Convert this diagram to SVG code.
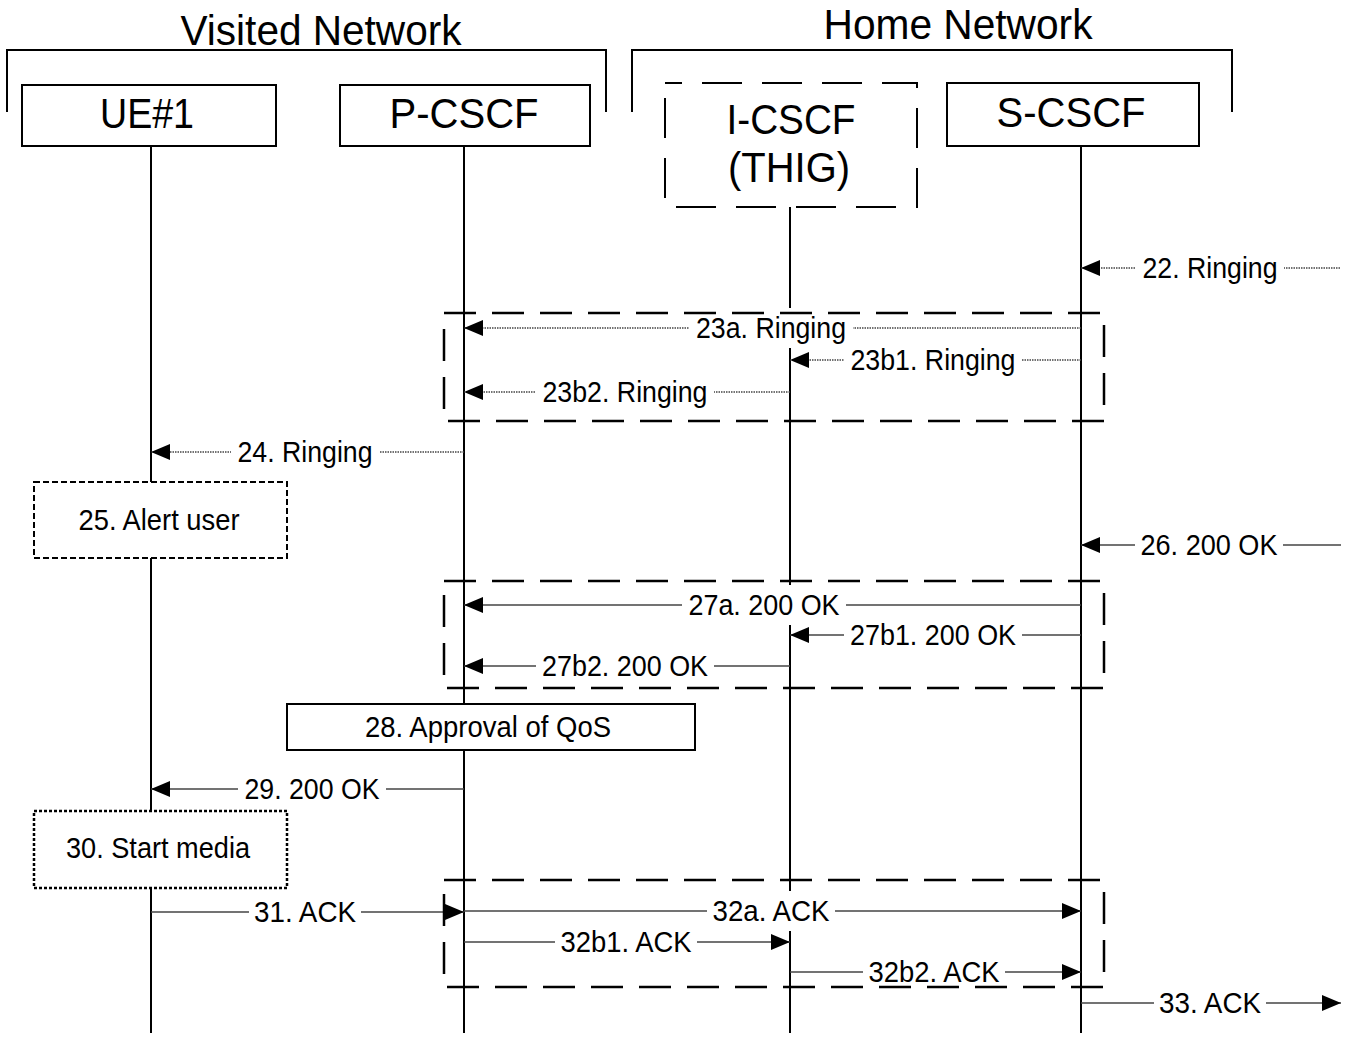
<svg xmlns="http://www.w3.org/2000/svg" width="1351" height="1037" viewBox="0 0 1351 1037">
<style>
text{font-family:"Liberation Sans",Arial,sans-serif;fill:#000}
.hdr{font-size:42px;text-anchor:middle}
.lbl{font-size:29px;text-anchor:middle}
.box{fill:#fff;stroke:#000;stroke-width:2}
.life{stroke:#000;stroke-width:2;fill:none}
.brk{stroke:#000;stroke-width:2;fill:none}
.grp{fill:none;stroke:#000;stroke-width:2.5;stroke-dasharray:32 16}
.dot{stroke:#444;stroke-width:1.5;stroke-dasharray:1.5 1;fill:none}
.sol{stroke:#444;stroke-width:1.5;fill:none}
.bg{fill:#fff}
</style>
<defs>
<marker id="ah" markerUnits="userSpaceOnUse" markerWidth="20" markerHeight="16" refX="19" refY="8" orient="auto">
<path d="M0,0 L19,8 L0,16 z" fill="#000" stroke="none"/>
</marker>
</defs>
<rect width="1351" height="1037" fill="#fff"/>
<g id="visited-network">
<text class="hdr" x="321" y="45" textLength="281" lengthAdjust="spacingAndGlyphs">Visited Network</text>
<path class="brk" d="M7,112 V50 H606 V112"/>
</g>
<g id="home-network">
<text class="hdr" x="958" y="39" textLength="269" lengthAdjust="spacingAndGlyphs">Home Network</text>
<path class="brk" d="M632,112 V50 H1232 V112"/>
</g>
<g id="lifelines">
<line class="life" x1="151" y1="146" x2="151" y2="1033"/>
<line class="life" x1="464" y1="146" x2="464" y2="1033"/>
<line class="life" x1="790" y1="207" x2="790" y2="1033"/>
<line class="life" x1="1081" y1="146" x2="1081" y2="1033"/>
</g>
<g id="ue1">
<rect class="box" x="22" y="85" width="254" height="61"/>
<text class="hdr" x="147" y="128" textLength="94" lengthAdjust="spacingAndGlyphs">UE#1</text>
</g>
<g id="pcscf">
<rect class="box" x="340" y="85" width="250" height="61"/>
<text class="hdr" x="464" y="128" textLength="149" lengthAdjust="spacingAndGlyphs">P-CSCF</text>
</g>
<g id="icscf">
<rect x="665" y="83" width="252" height="124" fill="#fff" stroke="#000" stroke-width="2" stroke-dasharray="40 20" stroke-dashoffset="-37"/>
<text class="hdr" x="791" y="134" textLength="129" lengthAdjust="spacingAndGlyphs">I-CSCF</text>
<text class="hdr" x="789" y="182" textLength="122" lengthAdjust="spacingAndGlyphs">(THIG)</text>
</g>
<g id="scscf">
<rect class="box" x="947" y="83" width="252" height="63"/>
<text class="hdr" x="1071" y="127" textLength="149" lengthAdjust="spacingAndGlyphs">S-CSCF</text>
</g>
<g id="alert-user">
<rect x="34" y="482" width="253" height="76" fill="#fff" stroke="#000" stroke-width="2" stroke-dasharray="6 3"/>
<text class="lbl" x="159" y="530" textLength="161" lengthAdjust="spacingAndGlyphs">25. Alert user</text>
</g>
<g id="approval-qos">
<rect class="box" x="287" y="704" width="408" height="46"/>
<text class="lbl" x="488" y="737" textLength="246" lengthAdjust="spacingAndGlyphs">28. Approval of QoS</text>
</g>
<g id="start-media">
<rect x="34" y="811" width="253" height="77" fill="#fff" stroke="#000" stroke-width="2.5" stroke-dasharray="3 2"/>
<text class="lbl" x="158" y="858" textLength="184" lengthAdjust="spacingAndGlyphs">30. Start media</text>
</g>
<g id="connectors">
<line class="dot" x1="1340" y1="268" x2="1081" y2="268" marker-end="url(#ah)"/>
<line class="dot" x1="1081" y1="328" x2="464" y2="328" marker-end="url(#ah)"/>
<line class="dot" x1="1081" y1="360" x2="790" y2="360" marker-end="url(#ah)"/>
<line class="dot" x1="790" y1="392" x2="464" y2="392" marker-end="url(#ah)"/>
<line class="dot" x1="464" y1="452" x2="151" y2="452" marker-end="url(#ah)"/>
<line class="sol" x1="1341" y1="545" x2="1081" y2="545" marker-end="url(#ah)"/>
<line class="sol" x1="1081" y1="605" x2="464" y2="605" marker-end="url(#ah)"/>
<line class="sol" x1="1081" y1="635" x2="790" y2="635" marker-end="url(#ah)"/>
<line class="sol" x1="790" y1="666" x2="464" y2="666" marker-end="url(#ah)"/>
<line class="sol" x1="464" y1="789" x2="151" y2="789" marker-end="url(#ah)"/>
<line class="sol" x1="151" y1="912" x2="464" y2="912" marker-end="url(#ah)"/>
<line class="sol" x1="464" y1="911" x2="1081" y2="911" marker-end="url(#ah)"/>
<line class="sol" x1="464" y1="942" x2="790" y2="942" marker-end="url(#ah)"/>
<line class="sol" x1="790" y1="972" x2="1081" y2="972" marker-end="url(#ah)"/>
<line class="sol" x1="1081" y1="1003" x2="1341" y2="1003" marker-end="url(#ah)"/>
</g>
<g id="labels">
<rect class="bg" x="1136" y="256" width="148" height="24"/><text class="lbl" x="1210" y="278" textLength="135" lengthAdjust="spacingAndGlyphs">22. Ringing</text>
<rect class="bg" x="689" y="308" width="164" height="40"/><text class="lbl" x="771" y="338" textLength="150" lengthAdjust="spacingAndGlyphs">23a. Ringing</text>
<rect class="bg" x="844" y="348" width="178" height="24"/><text class="lbl" x="933" y="370" textLength="165" lengthAdjust="spacingAndGlyphs">23b1. Ringing</text>
<rect class="bg" x="536" y="380" width="178" height="24"/><text class="lbl" x="625" y="402" textLength="165" lengthAdjust="spacingAndGlyphs">23b2. Ringing</text>
<rect class="bg" x="231" y="440" width="148" height="24"/><text class="lbl" x="305" y="462" textLength="135" lengthAdjust="spacingAndGlyphs">24. Ringing</text>
<rect class="bg" x="1135" y="533" width="148" height="24"/><text class="lbl" x="1209" y="555" textLength="137" lengthAdjust="spacingAndGlyphs">26. 200 OK</text>
<rect class="bg" x="682" y="585" width="164" height="40"/><text class="lbl" x="764" y="615" textLength="151" lengthAdjust="spacingAndGlyphs">27a. 200 OK</text>
<rect class="bg" x="844" y="623" width="178" height="24"/><text class="lbl" x="933" y="645" textLength="166" lengthAdjust="spacingAndGlyphs">27b1. 200 OK</text>
<rect class="bg" x="536" y="654" width="178" height="24"/><text class="lbl" x="625" y="676" textLength="166" lengthAdjust="spacingAndGlyphs">27b2. 200 OK</text>
<rect class="bg" x="238" y="777" width="148" height="24"/><text class="lbl" x="312" y="799" textLength="135" lengthAdjust="spacingAndGlyphs">29. 200 OK</text>
<rect class="bg" x="249" y="900" width="112" height="24"/><text class="lbl" x="305" y="922" textLength="102" lengthAdjust="spacingAndGlyphs">31. ACK</text>
<rect class="bg" x="707" y="891" width="128" height="40"/><text class="lbl" x="771" y="921" textLength="117" lengthAdjust="spacingAndGlyphs">32a. ACK</text>
<rect class="bg" x="555" y="930" width="142" height="24"/><text class="lbl" x="626" y="952" textLength="131" lengthAdjust="spacingAndGlyphs">32b1. ACK</text>
<rect class="bg" x="863" y="960" width="142" height="24"/><text class="lbl" x="934" y="982" textLength="131" lengthAdjust="spacingAndGlyphs">32b2. ACK</text>
<rect class="bg" x="1154" y="991" width="112" height="24"/><text class="lbl" x="1210" y="1013" textLength="102" lengthAdjust="spacingAndGlyphs">33. ACK</text>
</g>
<g id="groups">
<rect class="grp" x="444" y="313" width="660" height="108"/>
<rect class="grp" x="444" y="581" width="660" height="107"/>
<rect class="grp" x="444" y="880" width="660" height="107"/>
</g>
</svg>
